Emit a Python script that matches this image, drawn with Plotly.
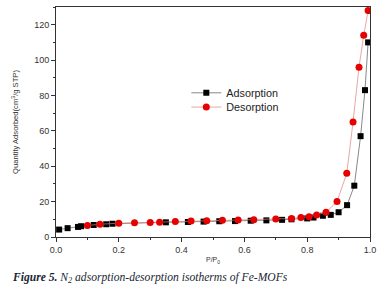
import plotly.graph_objects as go

ads_x = [0.01, 0.037, 0.07, 0.08, 0.12, 0.16, 0.18, 0.35, 0.42, 0.47, 0.52, 0.57, 0.62, 0.67,
         0.72, 0.75, 0.80, 0.82, 0.85, 0.875, 0.90, 0.927, 0.95, 0.97, 0.984, 0.994]
ads_y = [4.2, 5.0, 5.7, 6.1, 6.8, 7.2, 7.5, 8.3, 8.5, 8.7, 8.9, 9.0, 9.2, 9.4,
         9.7, 10.0, 10.5, 11.0, 12.0, 12.5, 14.0, 18.0, 29.0, 57.0, 83.0, 110.0]
des_x = [0.10, 0.14, 0.20, 0.25, 0.30, 0.33, 0.38, 0.43, 0.48, 0.53, 0.58, 0.63, 0.70, 0.75,
         0.78, 0.806, 0.83, 0.86, 0.895, 0.926, 0.946, 0.965, 0.98, 0.994]
des_y = [6.5, 7.2, 7.8, 8.0, 8.2, 8.4, 8.7, 9.0, 9.2, 9.4, 9.6, 9.8, 10.2, 10.5,
         11.0, 11.5, 12.5, 14.0, 20.0, 36.0, 65.0, 96.0, 114.0, 128.0]
x_ticks = [0.0, 0.2, 0.4, 0.6, 0.8, 1.0]
y_ticks = [0, 20, 40, 60, 80, 100, 120]

fig = go.Figure()
fig.add_trace(go.Scatter(x=ads_x, y=ads_y, mode="lines+markers", name="Adsorption",
                         line=dict(color="#555555", width=0.7),
                         marker=dict(symbol="square", size=6, color="black"),
                         legend="legend", showlegend=True))
fig.add_trace(go.Scatter(x=des_x, y=des_y, mode="lines+markers", name="Desorption",
                         line=dict(color="#e08080", width=0.7),
                         marker=dict(symbol="circle", size=7, color="#e60000"),
                         legend="legend2", showlegend=True))

axis_common = dict(showline=True, linecolor="#333333", linewidth=1, mirror=True,
                   ticks="outside", ticklen=4, tickcolor="#333333", showgrid=False,
                   zeroline=False, tickfont=dict(family="Liberation Sans, Arial", size=9, color="#333333"))

fig.update_xaxes(range=[0, 1], tickvals=x_ticks, ticktext=[f"{v:.1f}" for v in x_ticks],
                 minor=dict(ticks="outside", ticklen=2, dtick=0.1, tickcolor="#333333"),
                 title=dict(text="P/P<sub>0</sub>", font=dict(family="Liberation Sans, Arial", size=7, color="#333333"),
                            standoff=3),
                 **axis_common)
fig.update_yaxes(range=[0, 130], tickvals=y_ticks,
                 minor=dict(ticks="outside", ticklen=2, dtick=10, tickcolor="#333333"),
                 title=dict(text="Quantity Adsorbed(cm<sup>3</sup>/g STP)",
                            font=dict(family="Liberation Sans, Arial", size=7.6, color="#333333"), standoff=14),
                 **axis_common)

leg_common = dict(xanchor="left", yanchor="top", bgcolor="rgba(0,0,0,0)",
                  font=dict(family="Liberation Sans, Arial", size=10.8, color="#222222"),
                  itemwidth=30, visible=True)
plot_w = 386 - 56 - 16
plot_h = 289 - 7 - 52

fig.update_layout(
    width=386, height=289,
    showlegend=True,
    margin=dict(l=56, r=16, t=7, b=52),
    paper_bgcolor="white", plot_bgcolor="white",
    legend=dict(x=0.415, y=0.69, **leg_common),
    legend2=dict(x=0.415, y=0.628, **leg_common),
    annotations=[dict(x=(10 - 56) / plot_w, y=-(278 - 7 - plot_h) / plot_h,
                      xref="paper", yref="paper", showarrow=False,
                      xanchor="left", yanchor="middle",
                      text="<b><i>Figure 5.</i></b><i> N<sub>2</sub> adsorption-desorption isotherms of Fe-MOFs</i>",
                      font=dict(family="Liberation Serif, Times New Roman", size=11.6, color="#1a1f33"))],
)

fig.write_html("out.html", config={"displayModeBar": False},
               post_script="document.body.style.margin='0';")
